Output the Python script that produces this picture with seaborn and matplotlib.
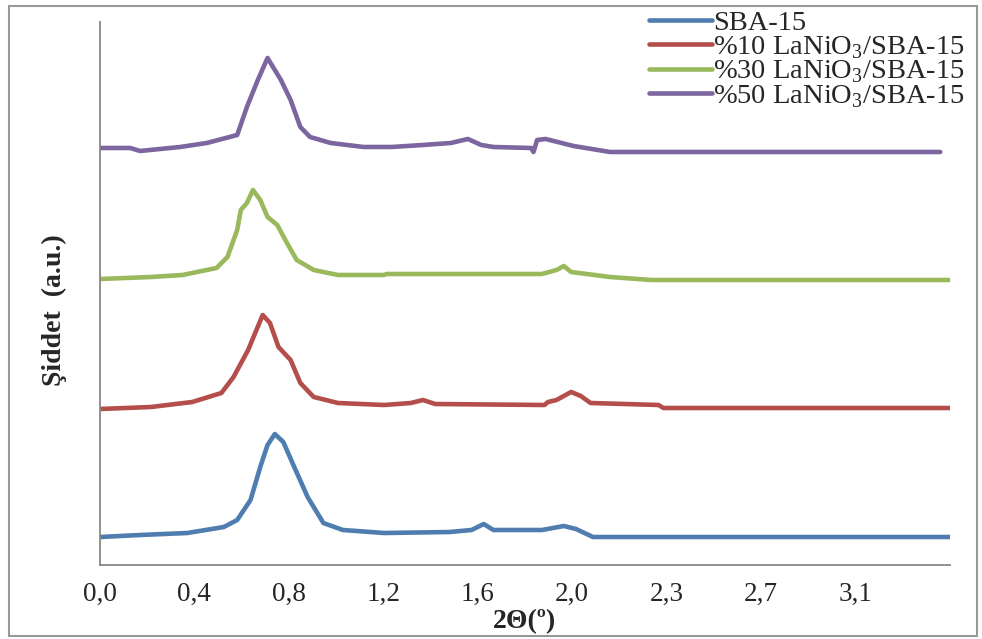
import numpy as np
import pandas as pd
import matplotlib
matplotlib.use("Agg")
import matplotlib.pyplot as plt
from matplotlib.patches import Rectangle
import seaborn as sns

# DATA (2theta in degrees, intensity stacked, arbitrary units)
sba_x = [0.00, 0.165, 0.36, 0.51, 0.565, 0.62, 0.66, 0.69, 0.72, 0.755, 0.80, 0.855,
         0.92, 1.00, 1.17, 1.44, 1.53, 1.58, 1.62, 1.82, 1.91, 1.96, 2.03, 3.50]
sba_y = [28, 30, 32, 38, 45, 65, 98, 120, 131, 123, 98, 68,
         42, 35, 32, 33, 35, 41, 35, 35, 39, 36, 28, 28]

la10_x = [0.00, 0.21, 0.38, 0.50, 0.55, 0.61, 0.67, 0.70, 0.735, 0.785, 0.825, 0.88,
          0.98, 1.17, 1.28, 1.33, 1.38, 1.83, 1.845, 1.88, 1.94, 1.98, 2.02, 2.30, 2.32, 3.50]
la10_y = [156, 158, 163, 172, 188, 215, 250, 242, 218, 205, 182, 168,
          162, 160, 162, 165, 161, 160, 163, 165, 173, 169, 162, 160, 157, 157]

la30_x = [0.00, 0.21, 0.34, 0.48, 0.525, 0.565, 0.58, 0.605, 0.63, 0.66, 0.69, 0.73,
          0.77, 0.81, 0.88, 0.98, 1.17, 1.18, 1.82, 1.88, 1.91, 1.94, 2.10, 2.27, 3.50]
la30_y = [286, 288, 290, 297, 308, 335, 355, 362, 375, 365, 348, 340,
          322, 305, 295, 290, 290, 291, 291, 295, 299, 293, 288, 285, 285]

la50_x = [0.00, 0.125, 0.165, 0.33, 0.44, 0.565, 0.605, 0.65, 0.69, 0.745, 0.785, 0.825,
          0.865, 0.95, 1.085, 1.20, 1.33, 1.445, 1.515, 1.57, 1.62, 1.775, 1.785, 1.80,
          1.835, 1.95, 2.10, 3.46]
la50_y = [417, 417, 414, 418, 422, 430, 458, 485, 507, 485, 465, 438,
          428, 422, 418, 418, 420, 422, 426, 420, 418, 417, 413, 425,
          426, 419, 413, 413]

samples = ["SBA-15", "%10 LaNiO$_3$/SBA-15", "%30 LaNiO$_3$/SBA-15", "%50 LaNiO$_3$/SBA-15"]
colors = ["#4F7DB0", "#B44E4B", "#9AB85C", "#7D65A0"]
tick_labels = ["0,0", "0,4", "0,8", "1,2", "1,6", "2,0", "2,3", "2,7", "3,1", ""]

frames = []
for name, xs, ys in zip(samples, [sba_x, la10_x, la30_x, la50_x], [sba_y, la10_y, la30_y, la50_y]):
    frames.append(pd.DataFrame({"theta": xs, "intensity": ys, "sample": name}))
df = pd.concat(frames, ignore_index=True)

sns.set_style("white")
plt.rcParams["font.family"] = ["Liberation Serif", "DejaVu Serif"]
plt.rcParams["mathtext.fontset"] = "custom"
plt.rcParams["mathtext.rm"] = "Liberation Serif"

fig = plt.figure(figsize=(9.82, 6.39), dpi=100)
ax = fig.add_axes([0.1018, 0.1158, 0.8656, 0.8498])

sns.lineplot(data=df, x="theta", y="intensity", hue="sample", hue_order=samples,
             palette=colors, linewidth=3.3, estimator=None, sort=False, ax=ax, legend=False)

ax.set_xlim(0, 3.5)
ax.set_ylim(0, 543)
ax.set_xticks(np.linspace(0, 3.5, 10))
ax.set_xticklabels(tick_labels, fontsize=19.5)
ax.set_yticks([])
ax.tick_params(axis="x", direction="out", length=7, width=1, color="#888888", pad=5)

for side in ["top", "right"]:
    ax.spines[side].set_visible(False)
for side in ["left", "bottom"]:
    ax.spines[side].set_color("#888888")
    ax.spines[side].set_linewidth(1.3)

ax.set_xlabel("2Θ(º)", fontsize=20, fontweight="bold", labelpad=2)
ax.set_ylabel("Şiddet  (a.u.)", fontsize=20, fontweight="bold")
ax.yaxis.set_label_coords(-0.039, 0.47)

handles = [plt.Line2D([], [], color=c, linewidth=3.3) for c in colors]
ax.legend(handles, samples, loc="upper right", bbox_to_anchor=(0.997, 1.007),
          bbox_transform=fig.transFigure, frameon=False, fontsize=20.5,
          handlelength=2.2, handletextpad=0.05, labelspacing=-0.07, borderpad=0.0)

fig.patches.append(Rectangle((0.009, 0.005), 0.986, 0.985, transform=fig.transFigure,
                             fill=False, edgecolor="#999999", linewidth=1.5))

fig.savefig("out.png", dpi=100)
plt.close(fig)
